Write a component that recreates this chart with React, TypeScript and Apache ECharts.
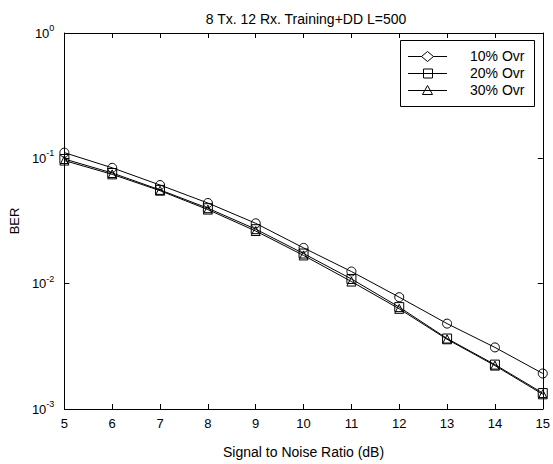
import React, { useEffect, useRef } from "react";
import * as echarts from "echarts";

const snr = [5, 6, 7, 8, 9, 10, 11, 12, 13, 14, 15];
const ber10 = [0.111, 0.084, 0.0612, 0.044, 0.0303, 0.0193, 0.0125, 0.0078, 0.0048, 0.0031, 0.00192];
const ber20 = [0.0988, 0.0764, 0.056, 0.040, 0.0272, 0.0174, 0.0109, 0.0065, 0.00365, 0.00226, 0.00134];
const ber30 = [0.096, 0.0745, 0.0552, 0.0390, 0.0263, 0.0168, 0.0104, 0.0063, 0.0036, 0.00222, 0.00131];
const seriesNames = ["10% Ovr", "20% Ovr", "30% Ovr"];
const titleText = "8 Tx. 12 Rx. Training+DD L=500";
const xName = "Signal to Noise Ratio (dB)";
const yName = "BER";

const FONT = "Liberation Sans, Arial, sans-serif";

export default function App() {
  const ref = useRef<HTMLDivElement>(null);
  useEffect(() => {
    if (!ref.current) return;
    const chart = echarts.init(ref.current, null, { renderer: "svg" });
    const mk = (ys: number[]) => snr.map((x, i) => [x, ys[i]]);
    const common = {
      type: "line",
      lineStyle: { color: "#000", width: 1 },
      itemStyle: { color: "rgba(255,255,255,0)", borderColor: "#000", borderWidth: 1 },
      emphasis: { disabled: true },
    };
    const lx0 = 408, lx1 = 447, lm = 427.5, lt = 470;
    const rows = [56, 73, 90];
    const legendEls: any[] = [
      { type: "rect", shape: { x: 400.5, y: 40.5, width: 134, height: 66 }, style: { fill: "#fff", stroke: "#000", lineWidth: 1 }, z: 100 },
    ];
    rows.forEach((y, i) => {
      legendEls.push({ type: "line", shape: { x1: lx0, y1: y + 0.5, x2: lx1, y2: y + 0.5 }, style: { stroke: "#000", lineWidth: 1 }, z: 101 });
      legendEls.push({ type: "text", x: lt, y: y, style: { text: seriesNames[i], font: `14px ${FONT}`, fill: "#000", verticalAlign: "middle", align: "left" }, z: 101 });
    });
    legendEls.push({ type: "polygon", shape: { points: [[lm - 6, rows[0] + 0.5], [lm, rows[0] - 4.5], [lm + 6, rows[0] + 0.5], [lm, rows[0] + 5.5]] }, style: { fill: "#fff", stroke: "#000", lineWidth: 1 }, z: 102 });
    legendEls.push({ type: "rect", shape: { x: lm - 4, y: rows[1] - 4, width: 9, height: 9 }, style: { fill: "rgba(255,255,255,0)", stroke: "#000", lineWidth: 1 }, z: 102 });
    legendEls.push({ type: "polygon", shape: { points: [[lm - 5, rows[2] + 4.5], [lm, rows[2] - 4.5], [lm + 5, rows[2] + 4.5]] }, style: { fill: "rgba(255,255,255,0)", stroke: "#000", lineWidth: 1 }, z: 102 });

    const yLabelFmt = (v: number) => {
      const e = Math.round(Math.log10(v));
      return `{b|10}{e|${e}}`;
    };

    chart.setOption({
      animation: false,
      backgroundColor: "#fff",
      textStyle: { fontFamily: FONT },
      title: {
        text: titleText,
        left: 301,
        textAlign: "center",
        top: 7,
        textStyle: { fontSize: 14, fontWeight: "normal", color: "#000", fontFamily: FONT },
      },
      grid: { left: 58, right: 8, top: 33, bottom: 47, containLabel: false },
      xAxis: [
        {
          type: "value",
          min: 5,
          max: 15,
          interval: 1,
          name: xName,
          nameLocation: "middle",
          nameGap: 36,
          nameTextStyle: { fontSize: 14, color: "#000", fontFamily: FONT },
          axisLine: { lineStyle: { color: "#000", width: 1 } },
          axisTick: { inside: true, length: 5, lineStyle: { color: "#000" } },
          axisLabel: { color: "#000", fontSize: 13, margin: 8, fontFamily: FONT },
          splitLine: { show: false },
        },
        {
          type: "value",
          position: "top",
          min: 5,
          max: 15,
          interval: 1,
          axisLine: { lineStyle: { color: "#000", width: 1 } },
          axisTick: { inside: true, length: 5, lineStyle: { color: "#000" } },
          axisLabel: { show: false },
          splitLine: { show: false },
        },
      ],
      yAxis: [
        {
          type: "log",
          logBase: 10,
          min: 0.001,
          max: 1,
          name: yName,
          nameLocation: "middle",
          nameGap: 42,
          nameRotate: 90,
          nameTextStyle: { fontSize: 13, color: "#000", fontFamily: FONT },
          axisLine: { lineStyle: { color: "#000", width: 1 } },
          axisTick: { inside: true, length: 5, lineStyle: { color: "#000" } },
          minorTick: { show: false },
          axisLabel: {
            color: "#000",
            margin: 10,
            formatter: yLabelFmt,
            rich: {
              b: { fontSize: 13, fontFamily: FONT, color: "#000", lineHeight: 15 },
              e: { fontSize: 9, fontFamily: FONT, color: "#000", verticalAlign: "top", padding: [0, 0, 10, 0] },
            },
          },
          splitLine: { show: false },
        },
        {
          type: "log",
          logBase: 10,
          min: 0.001,
          max: 1,
          position: "right",
          axisLine: { lineStyle: { color: "#000", width: 1 } },
          axisTick: { inside: true, length: 5, lineStyle: { color: "#000" } },
          axisLabel: { show: false },
          splitLine: { show: false },
        },
      ],
      series: [
        { ...common, name: seriesNames[0], data: mk(ber10), symbol: "circle", symbolSize: 9 },
        { ...common, name: seriesNames[1], data: mk(ber20), symbol: "rect", symbolSize: 9 },
        { ...common, name: seriesNames[2], data: mk(ber30), symbol: "triangle", symbolSize: 9 },
      ],
      graphic: legendEls,
    });
    return () => chart.dispose();
  }, []);
  return <div ref={ref} style={{ width: 553, height: 464, position: "absolute", left: 0, top: 0 }} />;
}
